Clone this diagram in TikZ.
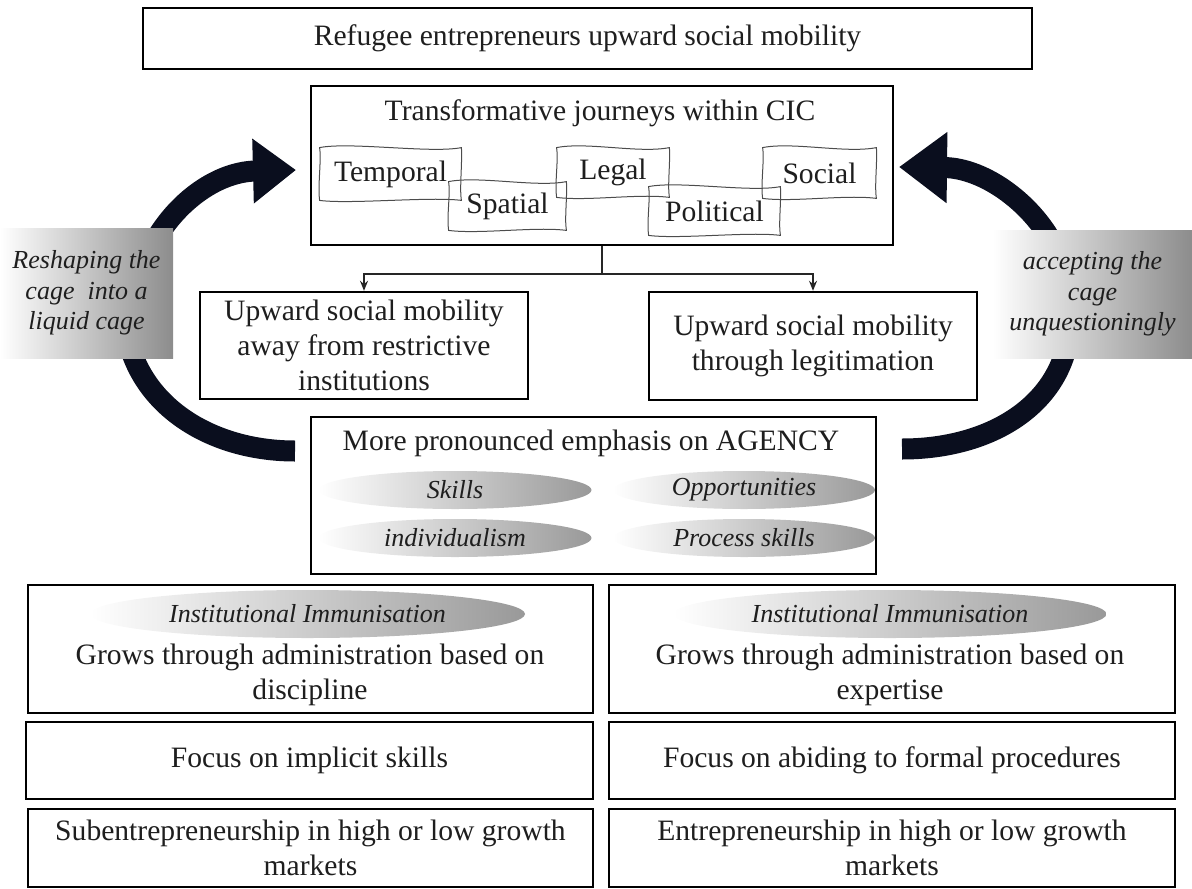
\documentclass[tikz,border=0pt]{standalone}
\usepackage{fontspec}
\setmainfont{Liberation Serif}
\usetikzlibrary{arrows.meta,shapes.geometric}
\definecolor{bandcol}{RGB}{10,14,30}
\definecolor{txtcol}{RGB}{30,30,30}
\tikzset{
  box/.style={draw, line width=1.2pt, inner sep=0pt, text=txtcol, align=center, font=\fontsize{14.8}{17.5}\selectfont},
  txt/.style={inner sep=0pt, text=txtcol, align=center, font=\fontsize{14.8}{17.5}\selectfont},
  wavy/.style={inner sep=0pt, text=txtcol, font=\fontsize{14.8}{17.5}\selectfont},
  rough/.style={draw=black!70, line width=0.5pt},
  blob/.style={ellipse, inner sep=0pt, left color=white, right color=black!40, text=txtcol, font=\fontsize{13}{15}\selectfont\itshape},
  band/.style={line width=10.5pt, draw=bandcol},
  tag/.style={inner sep=0pt, left color=white, right color=black!45, align=center, text=txtcol, font=\fontsize{13}{15.3}\selectfont\itshape},
  link/.style={line width=0.8pt, draw=black!85}
}
% hand drawn outline round a node
\newcommand{\roughbox}[1]{%
  \draw[rough] (#1.south west) .. controls +(-2,-15) and +(2,12) .. (#1.north west)
    .. controls +(30,-6) and +(-30,6) .. (#1.north east)
    .. controls +(1,15) and +(-2,-12) .. (#1.south east)
    .. controls +(-30,-4) and +(30,4) .. (#1.south west) -- cycle;}
\begin{document}
\begin{tikzpicture}[x=0.5pt, y=-0.5pt]
    \useasboundingbox (0,0) rectangle (1192,888);

    % Top
    \node[box, minimum width=444.5pt, minimum height=30.5pt] (top) at (587.5,38.5) {Refugee entrepreneurs upward social mobility};

    % Curved bands
    \coordinate (lup) at (150,250);
    \coordinate (lhead) at (296,170);
    \coordinate (rup) at (1056,250);
    \coordinate (rhead) at (899,167);
    \coordinate (llow) at (128,340);
    \coordinate (lend) at (295,451);
    \coordinate (rlow) at (1068,340);
    \coordinate (rend) at (902,449);
    \draw[band, -{Triangle[length=21.5pt, width=31pt]}] (lup) .. controls (172,205) and (215,172) .. (lhead);
    \draw[band, -{Triangle[length=24pt, width=34pt]}] (rup) .. controls (1035,205) and (985,168) .. (rhead);
    \draw[band] (llow) .. controls (145,410) and (215,451) .. (lend);
    \draw[band] (rlow) .. controls (1055,410) and (985,449) .. (rend);

    % Side labels
    \node[tag, minimum width=86.5pt, minimum height=65pt] (ltag) at (86.5,293) {Reshaping the\\cage~ into a\\liquid cage};
    \node[tag, minimum width=99.5pt, minimum height=64pt] (rtag) at (1092.5,294) {accepting the\\cage\\unquestioningly};

    % Journeys within CIC
    \node[box, minimum width=291pt, minimum height=79.5pt] (cic) at (602,165.5) {};
    \node[txt] (cictitle) at (600,113) {Transformative journeys within CIC};
    \node[wavy, minimum width=70.5pt, minimum height=26pt] (temporal) at (390.5,174) {Temporal};
    \node[wavy, minimum width=58.5pt, minimum height=24pt] (spatial) at (507.5,206) {Spatial};
    \node[wavy, minimum width=56pt, minimum height=24.5pt] (legal) at (613,172.5) {Legal};
    \node[wavy, minimum width=65.5pt, minimum height=24pt] (political) at (714.5,211) {Political};
    \node[wavy, minimum width=56.5pt, minimum height=25pt] (social) at (819.5,173) {Social};
    \foreach \n in {temporal,spatial,legal,political,social}
        \roughbox{\n};

    % Two paths
    \node[box, minimum width=164pt, minimum height=53.5pt] (upA) at (364,345.5) {Upward social mobility\\away from restrictive\\institutions};
    \node[box, minimum width=164pt, minimum height=54pt] (upB) at (813,346) {Upward social mobility\\through legitimation};
    \draw[link] (cic.south) -- ++(0,28) coordinate (split);
    \draw[link, -{Stealth[length=5pt, width=4pt]}] (split) -| (upA.north);
    \draw[link, -{Stealth[length=5pt, width=4pt]}] (split) -| (upB.north);

    % Agency
    \node[box, minimum width=282.5pt, minimum height=78.5pt] (agency) at (593.5,495.5) {};
    \node[txt] (agencytitle) at (591,443) {More pronounced emphasis on AGENCY};
    \node[blob, minimum width=136.5pt, minimum height=19pt] (skills) at (455,490) {Skills};
    \node[blob, minimum width=131pt, minimum height=19pt] (opps) at (744,490) {Opportunities};
    \node[blob, minimum width=136.5pt, minimum height=19pt] (indiv) at (455,538) {individualism};
    \node[blob, minimum width=131pt, minimum height=19pt] (process) at (744,538) {Process skills};

    % Left column
    \node[box, minimum width=282.5pt, minimum height=64pt] (leftA) at (310.5,649) {};
    \node[blob, minimum width=217.5pt, minimum height=24pt] (immuneL) at (307.5,614) {Institutional Immunisation};
    \node[txt] (growsL) at (310,674.5) {Grows through administration based on\\discipline};
    \node[box, minimum width=283.5pt, minimum height=38.5pt] (leftB) at (309.5,760.5) {Focus on implicit skills};
    \node[box, minimum width=282.5pt, minimum height=39pt] (leftC) at (310.5,848) {Subentrepreneurship in high or low growth\\markets};

    % Right column
    \node[box, minimum width=283pt, minimum height=64pt] (rightA) at (892,649) {};
    \node[blob, minimum width=216.5pt, minimum height=24pt] (immuneR) at (890,614) {Institutional Immunisation};
    \node[txt] (growsR) at (890,674.5) {Grows through administration based on\\expertise};
    \node[box, minimum width=283pt, minimum height=38.5pt] (rightB) at (892,760.5) {Focus on abiding to formal procedures};
    \node[box, minimum width=283pt, minimum height=39pt] (rightC) at (892,848) {Entrepreneurship in high or low growth\\markets};
\end{tikzpicture}
\end{document}
